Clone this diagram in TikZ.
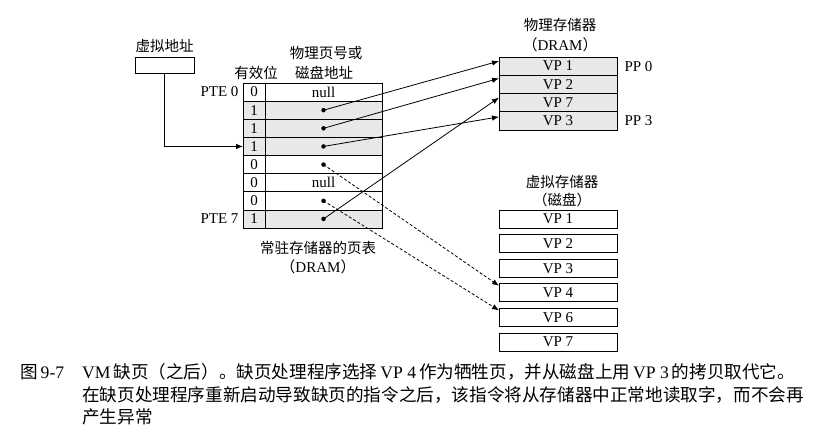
\documentclass[tikz,border=0pt]{standalone}
\usepackage{fontspec}
\setmainfont{Liberation Serif}
\newfontfamily\cjk{Noto Sans CJK SC}
\usetikzlibrary{positioning,arrows.meta,calc}
\newcommand{\zh}[1]{{\cjk #1}}

\begin{document}
\begin{tikzpicture}[x=1pt, y=-1pt, every node/.style={font=\fontsize{15}{17}\selectfont},
  cell/.style={rectangle, draw, line width=0.7pt, inner sep=0pt, outer sep=0pt, minimum height=18.125pt},
  bitcell/.style={cell, minimum width=22pt},
  addrcell/.style={cell, minimum width=117pt},
  pmbox/.style={rectangle, draw, line width=0.7pt, fill=gray!18, inner sep=0pt, outer sep=0pt, minimum width=118pt, minimum height=18.25pt},
  vmbox/.style={rectangle, draw, line width=0.7pt, inner sep=0pt, outer sep=0pt, minimum width=118pt, minimum height=18pt},
  zhlabel/.style={font=\cjk\fontsize{14.5}{16}\selectfont, inner sep=1pt},
  ptr/.style={circle, fill, inner sep=0pt, minimum size=4.5pt},
  link/.style={line width=0.8pt, -{Latex[length=7pt, width=5.5pt]}},
  captext/.style={font=\fontsize{17.6}{22}\selectfont, anchor=base west, inner sep=0pt}]
\useasboundingbox (0,0) rectangle (814,440);

% virtual address
\node[rectangle, draw, line width=0.7pt, minimum width=59pt, minimum height=16pt, inner sep=0pt] (va) at (164.5,65) {};
\node[zhlabel, above=3pt of va] (valabel) {虚拟地址};

% page table
\foreach \i/\b/\c in {0/0/white,1/1/gray!18,2/1/gray!18,3/1/gray!18,4/0/white,5/0/white,6/0/white,7/1/gray!18} {
  \node[bitcell, fill=\c] (v\i) at (254, 92.06+18.125*\i) {\b};
  \node[addrcell, fill=\c, anchor=west] (a\i) at (v\i.east) {};
}
\node (null0) at (a0.center) {null};
\node (null5) at (a5.center) {null};
\foreach \i in {1,2,3,4,6,7}
  \node[ptr] (p\i) at (a\i.center) {};

\node[left=1pt of v0] (pte0) {PTE 0};
\node[left=1pt of v7] (pte7) {PTE 7};
\node[zhlabel] (validlabel) at (256,73) {有效位};
\node[zhlabel] (addrlabel1) at (326,53) {物理页号或};
\node[zhlabel] (addrlabel2) at (324,73) {磁盘地址};
\node[zhlabel] (ptlabel) at (318,248) {常驻存储器的页表};
\node (ptdram) at (318,267) {\zh{（}DRAM\zh{）}};

% physical memory
\node[zhlabel] (pmtitle) at (560,25) {物理存储器};
\node (pmdram) at (560,45) {\zh{（}DRAM\zh{）}};
\node[pmbox] (pm0) at (558,66.1) {VP 1};
\node[pmbox, below=0pt of pm0] (pm1) {VP 2};
\node[pmbox, below=0pt of pm1] (pm2) {VP 7};
\node[pmbox, below=0pt of pm2] (pm3) {VP 3};
\node[right=4pt of pm0] (pp0) {PP 0};
\node[right=4pt of pm3] (pp3) {PP 3};

% virtual memory (disk)
\node[zhlabel] (vmtitle) at (562,182) {虚拟存储器};
\node[zhlabel] (vmdisk) at (562,200) {（磁盘）};
\foreach \k/\n in {0/1,1/2,2/3,3/4,4/6,5/7}
  \node[vmbox] (vm\n) at (558, 219+24.6*\k) {VP \n};

% connectors
\draw[link] (va.south) |- (v3.west);
\draw[link] (p1.center) -- ([yshift=5pt]pm0.west);
\draw[link] (p2.center) -- ([yshift=6pt]pm1.west);
\draw[link] (p7.center) -- ([yshift=5pt]pm2.west);
\draw[link] (p3.center) -- ([yshift=4pt]pm3.west);
\draw[link, dash pattern=on 3pt off 2pt] (p4.center) -- ([yshift=-2pt]vm4.north west);
\draw[link, dash pattern=on 3pt off 2pt] (p6.center) -- ([yshift=-2pt]vm6.north west);

% caption
\node[captext] (fignum) at (20,378) {\zh{图}\,9-7};
\node[captext] (capline1) at (82,378) {VM\,\zh{缺页（之后）。缺页处理程序选择}\,VP 4\,\zh{作为牺牲页，并从磁盘上用}\,VP 3\,\zh{的拷贝取代它。}};
\node[captext] (capline2) at (82,401) {\zh{在缺页处理程序重新启动导致缺页的指令之后，该指令将从存储器中正常地读取字，而不会再}};
\node[captext] (capline3) at (82,423) {\zh{产生异常}};
\end{tikzpicture}
\end{document}
